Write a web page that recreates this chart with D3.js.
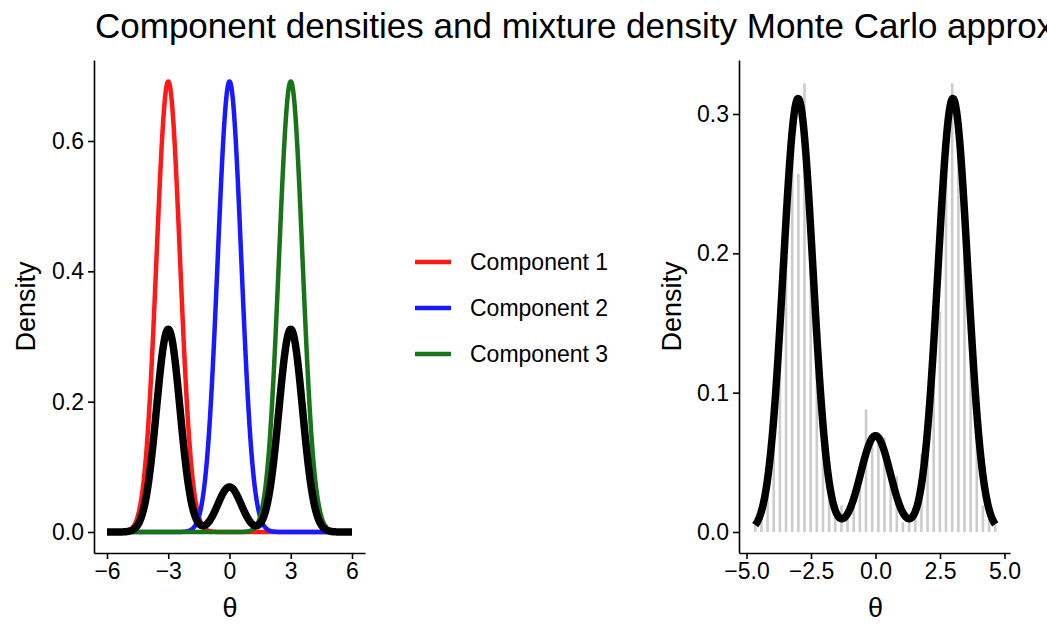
<!DOCTYPE html>
<html>
<head>
<meta charset="utf-8">
<script src="https://cdn.jsdelivr.net/npm/d3@7"></script>
<style>
  html, body { margin: 0; padding: 0; background: #ffffff; }
  svg { display: block; }
  text { font-family: "Liberation Sans", Arial, Helvetica, sans-serif; fill: #000; }
</style>
</head>
<body>
<svg id="chart" width="1047" height="624"></svg>
<script>
// ---- data -------------------------------------------------------------
// Normal mixture: three components with equal spread
const componentNames   = ["Component 1", "Component 2", "Component 3"];
const componentMeans   = [-3, 0, 3];
const componentSd      = [0.577, 0.577, 0.577];
const mixtureWeights   = [0.45, 0.10, 0.45];

// Monte Carlo draws, binned (density scale): first bin centre and bin width
const histFirstCentre = -4.66;
const histBinWidth    = 0.2385;
const histDensity = [
  0.005, 0.015, 0.038, 0.080, 0.146, 0.222, 0.285, 0.257, 0.322, 0.199,
  0.140, 0.076, 0.035, 0.015, 0.019, 0.011, 0.022, 0.040, 0.088, 0.066,
  0.067, 0.068, 0.040, 0.040, 0.007, 0.009, 0.014, 0.056, 0.072, 0.134,
  0.158, 0.278, 0.322, 0.289, 0.228, 0.151, 0.084, 0.019, 0.016, 0.005
];

// axis ticks
const leftXTicks  = [-6, -3, 0, 3, 6];
const leftYTicks  = [0, 0.2, 0.4, 0.6];
const rightXTicks = [-5, -2.5, 0, 2.5, 5];
const rightYTicks = [0, 0.1, 0.2, 0.3];

// ---- styling ----------------------------------------------------------
const componentColors = ["#ff1919", "#1919ff", "#197319"];
const tickFont = 23;

// ---- helpers ----------------------------------------------------------
const dnorm = (x, m, s) => Math.exp(-0.5 * ((x - m) / s) ** 2) / (s * Math.sqrt(2 * Math.PI));
const mixture = x => d3.sum(componentMeans, (m, i) => mixtureWeights[i] * dnorm(x, m, componentSd[i]));

const svg = d3.select("#chart");

function drawAxes(g, x, y, xTicks, yTicks, fmtX, fmtY, px, py) {
  // axis scales stretched to the full panel extent so the axis lines span the panel
  const xa = x.copy().domain([x.invert(px[0]), x.invert(px[1])]).range(px);
  const ya = y.copy().domain([y.invert(py[0]), y.invert(py[1])]).range(py);

  const gx = g.append("g").attr("transform", `translate(0,${py[0]})`)
    .call(d3.axisBottom(xa).tickValues(xTicks).tickFormat(fmtX).tickSize(6).tickSizeOuter(0).tickPadding(4));
  const gy = g.append("g").attr("transform", `translate(${px[0]},0)`)
    .call(d3.axisLeft(ya).tickValues(yTicks).tickFormat(fmtY).tickSize(6).tickSizeOuter(0).tickPadding(4));

  [gx, gy].forEach(a => {
    a.select(".domain").attr("stroke", "#000").attr("stroke-width", 1.6);
    a.selectAll(".tick line").attr("stroke", "#000").attr("stroke-width", 1.6);
    a.selectAll(".tick text")
      .attr("font-family", '"Liberation Sans", Arial, sans-serif')
      .attr("font-size", tickFont).attr("fill", "#000");
  });
}

// ---- left panel: component densities and the mixture -----------------
const xL = d3.scaleLinear().domain([-6, 6]).range([107, 352]);
const yL = d3.scaleLinear().domain([0, 0.6]).range([532, 141]);
const left = svg.append("g");

const gridL = d3.range(-6, 6.0001, 0.02);
const lineL = d3.line().x(d => xL(d[0])).y(d => yL(d[1]));

componentMeans.forEach((m, i) => {
  left.append("path")
    .datum(gridL.map(t => [t, dnorm(t, m, componentSd[i])]))
    .attr("d", lineL)
    .attr("fill", "none")
    .attr("stroke", componentColors[i])
    .attr("stroke-width", 4.5)
    .attr("stroke-linejoin", "round");
});

left.append("path")
  .datum(gridL.map(t => [t, mixture(t)]))
  .attr("d", lineL)
  .attr("fill", "none")
  .attr("stroke", "#000")
  .attr("stroke-width", 7.5)
  .attr("stroke-linejoin", "round");

drawAxes(left, xL, yL, leftXTicks, leftYTicks, d3.format(".0f"), d3.format(".1f"), [94, 365], [553, 60]);

// ---- right panel: histogram of draws with the mixture density ----------
const xR = d3.scaleLinear().domain([-5, 5]).range([746.5, 1004.5]);
const yR = d3.scaleLinear().domain([0, 0.3]).range([532, 114]);
const right = svg.append("g");

const binCentres = histDensity.map((_, i) => histFirstCentre + i * histBinWidth);
const barW = 2.6;

right.append("g").selectAll("rect")
  .data(histDensity)
  .join("rect")
  .attr("x", (d, i) => xR(binCentres[i]) - barW / 2)
  .attr("width", barW)
  .attr("y", d => yR(d))
  .attr("height", d => yR(0) - yR(d))
  .attr("fill", "#cccccc");

const lo = binCentres[0], hi = binCentres[binCentres.length - 1];
const gridR = d3.range(lo, hi + 1e-9, (hi - lo) / 400);
right.append("path")
  .datum(gridR.map(t => [t, mixture(t)]))
  .attr("d", d3.line().x(d => xR(d[0])).y(d => yR(d[1])))
  .attr("fill", "none")
  .attr("stroke", "#000")
  .attr("stroke-width", 7.5)
  .attr("stroke-linejoin", "round");

drawAxes(right, xR, yR, rightXTicks, rightYTicks, d3.format(".1f"), d3.format(".1f"), [739, 1010], [553, 60]);

// ---- axis titles --------------------------------------------------------
[230, 875.5].forEach(cx => {
  svg.append("text")
    .attr("x", cx).attr("y", 617)
    .attr("text-anchor", "middle")
    .attr("font-family", '"Liberation Serif", serif')
    .attr("font-size", 27)
    .text("θ");
});

[[35, 306.5], [681, 306.5]].forEach(([bx, cy]) => {
  svg.append("text")
    .attr("transform", `translate(${bx},${cy}) rotate(-90)`)
    .attr("text-anchor", "middle")
    .attr("font-size", 27)
    .text("Density");
});

// ---- legend -------------------------------------------------------------
const legend = svg.append("g");
componentNames.forEach((name, i) => {
  const cy = 262 + i * 46;
  legend.append("line")
    .attr("x1", 415).attr("x2", 451).attr("y1", cy).attr("y2", cy)
    .attr("stroke", componentColors[i]).attr("stroke-width", 4.5);
  legend.append("text")
    .attr("x", 470).attr("y", cy).attr("dy", "0.35em")
    .attr("font-size", 23)
    .text(name);
});

// ---- title --------------------------------------------------------------
svg.append("text")
  .attr("x", 95).attr("y", 38)
  .attr("font-size", 35)
  .text("Component densities and mixture density Monte Carlo approx");
</script>
</body>
</html>
